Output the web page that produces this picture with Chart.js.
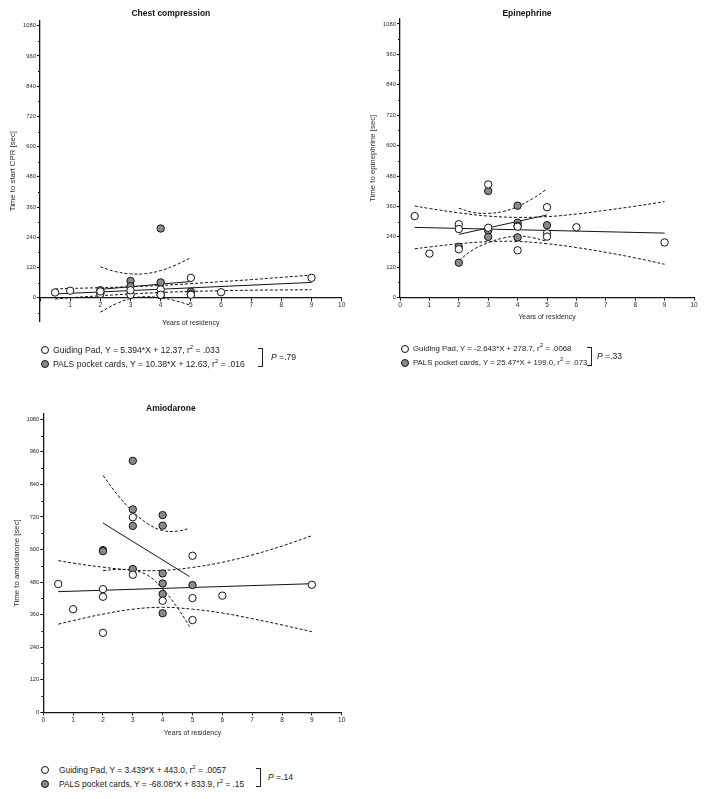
<!DOCTYPE html>
<html><head><meta charset="utf-8">
<script src="https://cdn.jsdelivr.net/npm/chart.js@4.4.1/dist/chart.umd.min.js"></script>
<style>
body{margin:0;background:#fff;width:716px;height:799px;position:relative;overflow:hidden;font-family:"Liberation Sans",Arial,sans-serif;}
canvas{position:absolute;}
.leg{position:absolute;font-size:8.6px;color:#222;white-space:nowrap;line-height:10px;}
.dot{position:absolute;width:6px;height:6px;border:1px solid #111;border-radius:50%;}
.br{position:absolute;width:4px;border:1px solid #222;border-left:none;}
.pv{position:absolute;font-size:8.6px;color:#222;white-space:nowrap;line-height:10px;}
sup{font-size:6px;line-height:0;vertical-align:4px;}
</style></head>
<body>
<canvas id="c1" width="360" height="345" style="left:0;top:0;width:360px;height:345px"></canvas>
<canvas id="c2" width="356" height="340" style="left:360px;top:0;width:356px;height:340px"></canvas>
<canvas id="c3" width="360" height="360" style="left:0;top:390px;width:360px;height:360px"></canvas>

<span class="dot" style="left:41px;top:346px;background:#fff"></span>
<span class="leg" style="left:53px;top:345px">Guiding Pad, Y = 5.394*X + 12.37, r<sup>2</sup> = .033</span>
<span class="dot" style="left:41px;top:360px;background:#8a8a8a"></span>
<span class="leg" style="left:53px;top:359px">PALS pocket cards, Y = 10.38*X + 12.63, r<sup>2</sup> = .016</span>
<span class="br" style="left:258px;top:348px;height:17px"></span>
<span class="pv" style="left:271px;top:352px"><i>P</i> =.79</span>

<span class="dot" style="left:401px;top:345px;background:#fff"></span>
<span class="leg" style="left:413px;top:344px;font-size:7.8px">Guiding Pad, Y = -2.643*X + 278.7, r<sup>2</sup> = .0068</span>
<span class="dot" style="left:401px;top:359px;background:#8a8a8a"></span>
<span class="leg" style="left:413px;top:358px;font-size:7.8px">PALS pocket cards, Y = 25.47*X + 199.0, r<sup>2</sup> = .073</span>
<span class="br" style="left:587px;top:347px;height:17px"></span>
<span class="pv" style="left:597px;top:351px"><i>P</i> =.33</span>

<span class="dot" style="left:41px;top:766px;background:#fff"></span>
<span class="leg" style="left:59px;top:765px;font-size:8.4px">Guiding Pad, Y = 3.439*X + 443.0, r<sup>2</sup> = .0057</span>
<span class="dot" style="left:41px;top:780px;background:#8a8a8a"></span>
<span class="leg" style="left:59px;top:779px;font-size:8.4px">PALS pocket cards, Y = -68.08*X + 833.9, r<sup>2</sup> = .15</span>
<span class="br" style="left:256px;top:768px;height:17px"></span>
<span class="pv" style="left:268px;top:772px"><i>P</i> =.14</span>

<script>
// ---- shared ticks ----
const yearTicks = [0,1,2,3,4,5,6,7,8,9,10];
const timeTicks = [0,120,240,360,480,600,720,840,960,1080];

// ---- Chest compression ----
const chestPadX = [0.5,1,2,2,3,3,4,4,5,5,6,9];
const chestPadY = [21,28,15,25,12,30,33,12,79,12,22,79];
const chestPalsX = [2,2,3,3,3,4,4,4,4,5,5];
const chestPalsY = [30,20,67,46,15,275,61,20,10,24,14];
const chestPadFitX = [0.5,9];
const chestPadFitY = [15.1,60.9];
const chestPalsFitX = [2,5];
const chestPalsFitY = [33.4,64.5];
const chestPadBandX = [0.5,1,2,3,4,5,6,7,8,9];
const chestPadUpper = [35,37,40,44,49,56,64,72,81,90];
const chestPadLower = [-5,0,8,15,21,25,28,30,31,32];
const chestPalsBandX = [2,2.5,3,3.5,4,4.5,5];
const chestPalsUpper = [123,104,95,96,108,130,159];
const chestPalsLower = [-57,-25,-3,4,0,-12,-30];

// ---- Epinephrine ----
const epiPadX = [0.5,1,2,2,2,3,3,4,4,5,5,5,6,9];
const epiPadY = [322,174,290,271,191,447,276,187,280,357,254,241,278,218];
const epiPalsX = [2,2,3,3,3,4,4,4,4,5];
const epiPalsY = [201,138,421,265,240,363,296,283,238,286];
const epiPadFitX = [0.5,9];
const epiPadFitY = [277.4,254.9];
const epiPalsFitX = [2,5];
const epiPalsFitY = [249.9,326.4];
const epiPadBandX = [0.5,1,2,3,4,5,6,7,8,9];
const epiPadUpper = [362,352,335,322,317,320,330,345,361,379];
const epiPadLower = [193,200,213,221,222,213,198,179,157,132];
const epiPalsBandX = [2,2.5,3,3.5,4,4.5,4.95];
const epiPalsUpper = [353,336,333,340,360,390,425];
const epiPalsLower = [147,190,217,235,243,237,224];

// ---- Amiodarone ----
const amiPadX = [0.5,1,2,2,2,3,3,4,5,5,5,6,9];
const amiPadY = [473,380,454,426,293,719,507,411,577,421,340,430,470];
const amiPalsX = [2,2,3,3,3,3,4,4,4,4,4,4,5];
const amiPalsY = [598,594,927,748,687,528,727,688,512,475,436,365,469];
const amiPadFitX = [0.5,9];
const amiPadFitY = [444.7,474.0];
const amiPalsFitX = [2,4.9];
const amiPalsFitY = [697.7,500.3];
const amiPadBandX = [0.5,1,2,3,4,5,6,7,8,9];
const amiPadUpper = [559,550,535,524,523,534,553,580,613,651];
const amiPadLower = [325,338,362,380,387,380,366,345,322,297];
const amiPalsBandX = [2,2.5,3,3.5,4,4.5,4.9];
const amiPalsUpper = [873,800,740,695,670,668,678];
const amiPalsLower = [522,527,523,505,455,385,316];

const FAM = '"Liberation Sans", Arial, sans-serif';
const INK = '#141414';
const GRAY = '#8a8a8a';

function pts(xs, ys){ return xs.map((x,i)=>({x:x, y:ys[i]})); }

const minorTicks = {
  id:'minorTicks',
  afterDraw(chart){
    const y = chart.scales.y, ctx = chart.ctx, x0 = chart.chartArea.left;
    ctx.save(); ctx.strokeStyle = INK; ctx.lineWidth = 1;
    for (let v = Math.ceil(y.min/60)*60; v <= 1080; v += 60) {
      if (v % 120 === 0) continue;
      const py = Math.round(y.getPixelForValue(v)) + 0.5;
      ctx.beginPath(); ctx.moveTo(x0-2, py); ctx.lineTo(x0, py); ctx.stroke();
    }
    ctx.restore();
  }
};

function build(id, o){
  const ds = [
    {data: pts(o.padX,o.padY), pointRadius:3.7, pointBackgroundColor:'#fff', pointBorderColor:INK, pointBorderWidth:1, showLine:false, order:0},
    {data: pts(o.palsX,o.palsY), pointRadius:3.7, pointBackgroundColor:GRAY, pointBorderColor:INK, pointBorderWidth:1, showLine:false, order:1},
    {data: pts(o.padFitX,o.padFitY), showLine:true, pointRadius:0, borderColor:INK, borderWidth:1, order:2},
    {data: pts(o.palsFitX,o.palsFitY), showLine:true, pointRadius:0, borderColor:INK, borderWidth:1, order:3},
    {data: pts(o.padBandX,o.padUpper), showLine:true, pointRadius:0, borderColor:INK, borderWidth:1, borderDash:[3,2], tension:0.4, order:4},
    {data: pts(o.padBandX,o.padLower), showLine:true, pointRadius:0, borderColor:INK, borderWidth:1, borderDash:[3,2], tension:0.4, order:5},
    {data: pts(o.palsBandX,o.palsUpper), showLine:true, pointRadius:0, borderColor:INK, borderWidth:1, borderDash:[3,2], tension:0.4, order:6},
    {data: pts(o.palsBandX,o.palsLower), showLine:true, pointRadius:0, borderColor:INK, borderWidth:1, borderDash:[3,2], tension:0.4, order:7}
  ];
  return new Chart(document.getElementById(id), {
    type:'scatter',
    data:{datasets:ds},
    plugins:[minorTicks],
    options:{
      responsive:false, animation:false, devicePixelRatio:1,
      layout:{padding:o.pad},
      plugins:{
        legend:{display:false}, tooltip:{enabled:false},
        title:{display:true, text:o.title, color:'#111', font:{family:FAM, size:8.5, weight:'bold'}, padding:o.titlePad}
      },
      scales:{
        x:{
          type:'linear', min:0, max:10, position:o.xPos,
          afterBuildTicks: s => { s.ticks = yearTicks.map(v=>({value:v})); },
          afterFit: s => { s.height = 30; },
          grid:{display:true, drawOnChartArea:false, drawTicks:true, tickLength:3, color:INK, lineWidth:1},
          border:{display:true, color:INK, width:1.3},
          ticks:{autoSkip:false, maxRotation:0, padding:1, color:'#2a2a2a', font:{family:FAM, size:6.5},
                 callback: v => (o.hideX0 && v === 0) ? '' : String(v)},
          title:{display:true, text:'Years of residency', color:'#2a2a2a', font:{family:FAM, size:7}, padding:{top:0, bottom:o.xTitleBottom}}
        },
        y:{
          type:'linear', min:o.yMin, max:1100,
          afterBuildTicks: s => { s.ticks = timeTicks.map(v=>({value:v})); },
          afterFit: s => { s.width = o.yW; },
          grid:{display:true, drawOnChartArea:false, drawTicks:true, tickLength:3, color:INK, lineWidth:1},
          border:{display:true, color:INK, width:1.3},
          ticks:{padding:1, color:'#2a2a2a', font:{family:FAM, size:5.8}, callback: v => String(v)},
          title:{display:true, text:o.yTitle, color:'#2a2a2a', font:{family:FAM, size:7.8}, padding:{top:o.yTitleTop, bottom:0}}
        }
      }
    }
  });
}

build('c1', {
  padX:chestPadX, padY:chestPadY, palsX:chestPalsX, palsY:chestPalsY,
  padFitX:chestPadFitX, padFitY:chestPadFitY, palsFitX:chestPalsFitX, palsFitY:chestPalsFitY,
  padBandX:chestPadBandX, padUpper:chestPadUpper, padLower:chestPadLower,
  palsBandX:chestPalsBandX, palsUpper:chestPalsUpper, palsLower:chestPalsLower,
  title:'Chest compression', yTitle:'Time to start CPR [sec]',
  yMin:-95, xPos:{y:0}, hideX0:true, yW:40,
  pad:{left:0, right:18.3, top:0, bottom:23.3},
  titlePad:{top:8.9, bottom:1.6}, xTitleBottom:0.5, yTitleTop:8.3
});
build('c2', {
  padX:epiPadX, padY:epiPadY, palsX:epiPalsX, palsY:epiPalsY,
  padFitX:epiPadFitX, padFitY:epiPadFitY, palsFitX:epiPalsFitX, palsFitY:epiPalsFitY,
  padBandX:epiPadBandX, padUpper:epiPadUpper, padLower:epiPadLower,
  palsBandX:epiPalsBandX, palsUpper:epiPalsUpper, palsLower:epiPalsLower,
  title:'Epinephrine', yTitle:'Time to epinephrine [sec]',
  yMin:0, xPos:'bottom', hideX0:false, yW:40,
  pad:{left:0, right:22, top:0, bottom:12.3},
  titlePad:{top:8.2, bottom:0.5}, xTitleBottom:6.5, yTitleTop:8.3
});
build('c3', {
  padX:amiPadX, padY:amiPadY, palsX:amiPalsX, palsY:amiPalsY,
  padFitX:amiPadFitX, padFitY:amiPadFitY, palsFitX:amiPalsFitX, palsFitY:amiPalsFitY,
  padBandX:amiPadBandX, padUpper:amiPadUpper, padLower:amiPadLower,
  palsBandX:amiPalsBandX, palsUpper:amiPalsUpper, palsLower:amiPalsLower,
  title:'Amiodarone', yTitle:'Time to amiodarone [sec]',
  yMin:0, xPos:'bottom', hideX0:false, yW:43.3,
  pad:{left:0, right:18.3, top:0, bottom:7.7},
  titlePad:{top:13.7, bottom:0}, xTitleBottom:5.4, yTitleTop:12.6
});
</script>
</body></html>
